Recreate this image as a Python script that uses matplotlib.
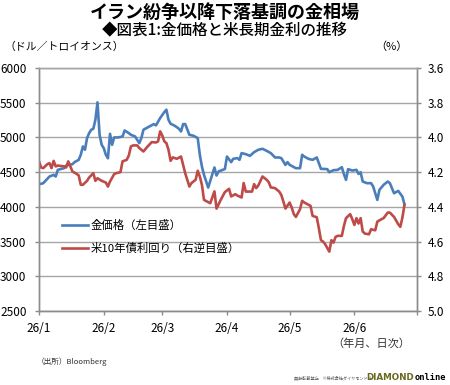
import pandas as pd
import matplotlib.pyplot as plt
import matplotlib.dates as mdates
from matplotlib.ticker import MultipleLocator

plt.rcParams['font.family'] = ['Noto Sans CJK JP', 'DejaVu Sans']

# gold price, USD per troy ounce (left axis)
gold_dates = [
    '01-01', '01-03', '01-06', '01-08', '01-09', '01-10', '01-13', '01-14', '01-17', '01-18',
    '01-20', '01-21', '01-22', '01-23', '01-24', '01-25', '01-26', '01-27', '01-28', '01-29',
    '01-30', '01-31', '02-01', '02-02', '02-03', '02-04', '02-05', '02-06', '02-08', '02-10',
    '02-11', '02-13', '02-14', '02-16', '02-18', '02-19', '02-20', '02-22', '02-25', '02-26',
    '02-28', '03-02', '03-03', '03-04', '03-05', '03-07', '03-09', '03-10', '03-11', '03-12',
    '03-14', '03-16', '03-18', '03-19', '03-20', '03-21', '03-23', '03-26', '03-27', '03-28',
    '03-31', '04-01', '04-03', '04-04', '04-06', '04-07', '04-08', '04-10', '04-12', '04-14',
    '04-16', '04-18', '04-20', '04-22', '04-24', '04-26', '04-27', '04-29', '04-30', '05-01',
    '05-04', '05-06', '05-07', '05-08', '05-10', '05-12', '05-14', '05-16', '05-17', '05-19',
    '05-20', '05-22', '05-24', '05-26', '05-27', '05-28', '05-29', '05-31', '06-02', '06-03',
    '06-04', '06-05', '06-07', '06-09', '06-10', '06-12', '06-13', '06-15', '06-17', '06-18',
    '06-20', '06-22', '06-24', '06-25',
]
gold_price = [
    4326, 4340, 4437, 4460, 4437, 4533, 4557, 4596, 4615, 4644,
    4677, 4750, 4870, 4822, 4990, 5062, 5110, 5125, 5254, 5505,
    5038, 4894, 4846, 4750, 4700, 5052, 4894, 5000, 5000, 5014,
    5100, 5062, 5038, 5014, 4918, 4990, 5110, 5144, 5192, 5173,
    5279, 5365, 5399, 5254, 5197, 5168, 5125, 5086, 5192, 5192,
    5038, 5024, 4990, 4750, 4581, 4461, 4278, 4567, 4451, 4510,
    4545, 4725, 4644, 4692, 4702, 4677, 4774, 4759, 4735, 4788,
    4822, 4836, 4807, 4774, 4711, 4711, 4702, 4605, 4644, 4605,
    4557, 4557, 4750, 4725, 4692, 4677, 4711, 4547, 4547, 4543,
    4499, 4528, 4533, 4571, 4470, 4389, 4543, 4523, 4533, 4475,
    4499, 4365, 4341, 4341, 4293, 4100, 4245, 4317, 4365, 4341,
    4196, 4230, 4148, 4035,
]

# US 10-year treasury yield, % (right axis, inverted)
yield_dates = [
    '01-01', '01-02', '01-03', '01-05', '01-06', '01-07', '01-08', '01-09', '01-10', '01-13',
    '01-14', '01-15', '01-16', '01-17', '01-19', '01-20', '01-21', '01-22', '01-24', '01-25',
    '01-27', '01-28', '01-29', '01-31', '02-02', '02-03', '02-04', '02-06', '02-07', '02-09',
    '02-10', '02-12', '02-13', '02-14', '02-15', '02-17', '02-18', '02-20', '02-22', '02-24',
    '02-26', '02-27', '02-28', '03-01', '03-02', '03-03', '03-04', '03-05', '03-06', '03-08',
    '03-10', '03-12', '03-14', '03-15', '03-17', '03-18', '03-19', '03-20', '03-21', '03-23',
    '03-24', '03-26', '03-27', '03-29', '03-31', '04-02', '04-03', '04-05', '04-06', '04-08',
    '04-09', '04-10', '04-13', '04-14', '04-15', '04-16', '04-18', '04-20', '04-21', '04-22',
    '04-24', '04-26', '04-27', '04-28', '04-29', '05-01', '05-02', '05-03', '05-04', '05-06',
    '05-07', '05-08', '05-11', '05-12', '05-14', '05-15', '05-16', '05-17', '05-18', '05-20',
    '05-21', '05-22', '05-23', '05-24', '05-26', '05-27', '05-28', '05-30', '05-31', '06-01',
    '06-02', '06-03', '06-04', '06-05', '06-06', '06-08', '06-09', '06-11', '06-12', '06-14',
    '06-15', '06-17', '06-18', '06-20', '06-22', '06-23', '06-24', '06-25',
]
yield_10y = [
    4.138, 4.173, 4.177, 4.154, 4.148, 4.177, 4.135, 4.167, 4.162, 4.167,
    4.173, 4.138, 4.167, 4.196, 4.210, 4.219, 4.273, 4.273, 4.250, 4.231,
    4.206, 4.250, 4.235, 4.250, 4.260, 4.283, 4.254, 4.211, 4.206, 4.200,
    4.138, 4.129, 4.104, 4.052, 4.046, 4.046, 4.061, 4.081, 4.052, 4.027,
    4.029, 4.023, 3.965, 3.988, 4.023, 4.033, 4.071, 4.135, 4.115, 4.123,
    4.110, 4.206, 4.283, 4.263, 4.244, 4.192, 4.225, 4.273, 4.360, 4.373,
    4.379, 4.311, 4.410, 4.360, 4.315, 4.296, 4.340, 4.327, 4.335, 4.346,
    4.263, 4.312, 4.312, 4.269, 4.292, 4.277, 4.225, 4.244, 4.258, 4.288,
    4.292, 4.312, 4.331, 4.369, 4.410, 4.375, 4.404, 4.442, 4.458, 4.413,
    4.365, 4.375, 4.394, 4.452, 4.460, 4.523, 4.592, 4.600, 4.615, 4.658,
    4.592, 4.606, 4.573, 4.567, 4.567, 4.510, 4.465, 4.442, 4.471, 4.504,
    4.465, 4.496, 4.465, 4.542, 4.554, 4.558, 4.529, 4.535, 4.485, 4.471,
    4.465, 4.433, 4.433, 4.458, 4.500, 4.515, 4.462, 4.388,
]

month_ticks = ['01-01', '02-01', '03-01', '04-01', '05-01', '06-01', '07-01']
month_labels = ['26/1', '26/2', '26/3', '26/4', '26/5', '26/6', '']

gold_x = pd.to_datetime(['2026-' + d for d in gold_dates])
yield_x = pd.to_datetime(['2026-' + d for d in yield_dates])
tick_x = pd.to_datetime(['2026-' + d for d in month_ticks])

blue = '#4a7ebb'
red = '#be4b48'
grey = '#8c8c8c'

fig = plt.figure(figsize=(4.5, 3.85), dpi=100)
ax = fig.add_axes([0.0867, 0.1922, 0.84, 0.6312])
ax2 = ax.twinx()

l1, = ax.plot(gold_x, gold_price, color=blue, lw=1.9, label='金価格（左目盛）')
l2, = ax2.plot(yield_x, yield_10y, color=red, lw=1.9, label='米10年債利回り（右逆目盛）')

ax.set_xlim(tick_x[0], tick_x[-1])
ax.set_ylim(2500, 6000)
ax.yaxis.set_major_locator(MultipleLocator(500))
ax2.set_ylim(5.0, 3.6)
ax2.yaxis.set_major_locator(MultipleLocator(0.2))
ax2.yaxis.set_major_formatter(plt.FuncFormatter(lambda v, p: f'{v:.1f}'))
ax.set_xticks(tick_x)
ax.set_xticklabels(month_labels)

ax.grid(axis='y', color='#a6a6a6', lw=1.0)
ax.set_axisbelow(True)
for a in (ax, ax2):
    for s in a.spines.values():
        s.set_color(grey)
        s.set_linewidth(1.0)
    a.spines['top'].set_color('#a6a6a6')
    a.tick_params(colors=grey, labelcolor='black', labelsize=8.5, length=3, width=1.0)
ax.tick_params(axis='y', pad=6)
ax2.tick_params(axis='y', pad=5)
ax.tick_params(axis='x', pad=5)

ax.legend(handles=[l1, l2], loc='upper left', bbox_to_anchor=(0.06, 0.375),
          frameon=False, fontsize=8.2, handlelength=2.3, handletextpad=0.2,
          labelspacing=1.0, borderaxespad=0, borderpad=0)

fig.text(0.5, 1 - 12 / 385, 'イラン紛争以降下落基調の金相場', ha='center', va='center',
         fontsize=13, fontweight='bold')
fig.text(0.5, 1 - 31 / 385, '◆図表1:金価格と米長期金利の推移', ha='center', va='center',
         fontsize=11.2, fontweight='medium')
fig.text(5 / 450, 1 - 47 / 385, '（ドル／トロイオンス）', ha='left', va='center', fontsize=7.8)
fig.text(391 / 450, 1 - 47 / 385, '（%）', ha='center', va='center', fontsize=8)
fig.text(410 / 450, 1 - 343 / 385, '（年月、日次）', ha='right', va='center', fontsize=8,
         color='#333333')
fig.text(37 / 450, 1 - 362 / 385, '（出所）Bloomberg', ha='left', va='center', fontsize=5.5,
         color='#333333')
fig.text(372 / 450, 1 - 378 / 385, '無断転載禁止　©株式会社ダイヤモンド社', ha='right',
         va='center', fontsize=3, color='#555555')
fig.text(414 / 450, 1 - 377 / 385, 'DIAMOND', ha='right', va='center', fontsize=6.3,
         fontweight='bold', color='#6b6a1f', family='Liberation Sans Narrow')
fig.text(415 / 450, 1 - 377 / 385, 'online', ha='left', va='center', fontsize=6.3,
         fontweight='bold', color='black', family='DejaVu Sans Mono')

fig.savefig('out.png', dpi=100)
